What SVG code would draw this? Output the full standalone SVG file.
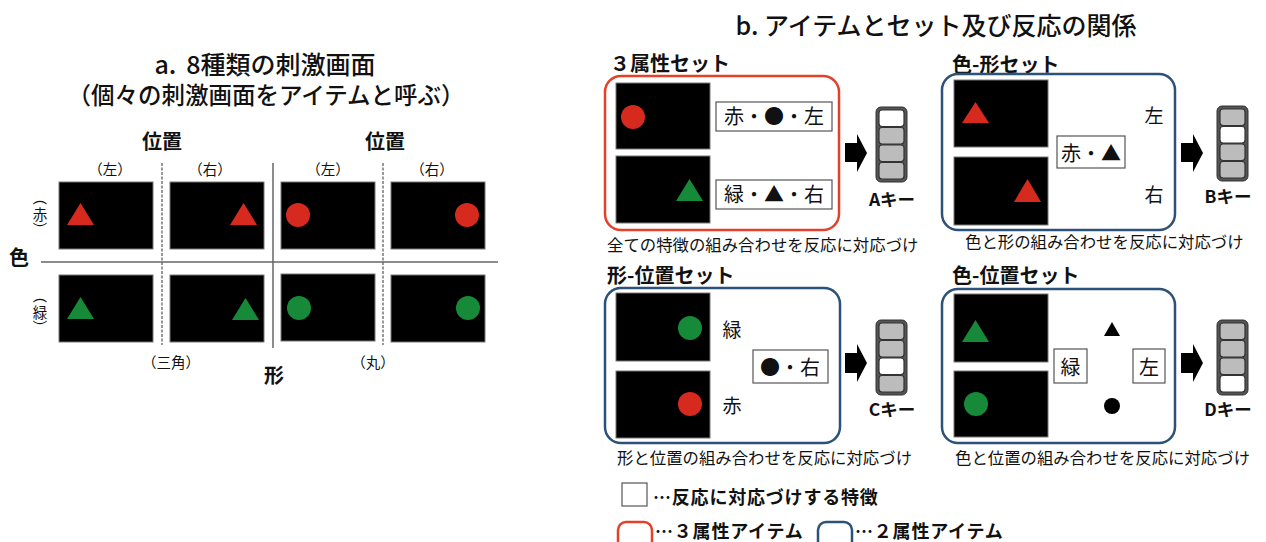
<svg xmlns="http://www.w3.org/2000/svg" width="1266" height="542" viewBox="0 0 1266 542">
<style>
text{font-family:"Noto Sans CJK JP","Noto Sans",sans-serif;fill:#111}
.b{font-weight:bold}
.m{font-weight:500}
.stim{fill:#000;stroke:#777;stroke-width:1}
.red{fill:#d62a1e}
.grn{fill:#178a3a}
.blk{fill:#000}
.div{stroke:#666;stroke-width:1.5;fill:none}
.dash{stroke:#777;stroke-width:1.5;stroke-dasharray:3 1.5;fill:none}
.set3{fill:#fff;stroke:#e4402a;stroke-width:2.5}
.set2{fill:#fff;stroke:#2c5279;stroke-width:2.5}
.lab{fill:#fff;stroke:#555;stroke-width:1.2}
.key{fill:#555;stroke:#333;stroke-width:1}
.cell{fill:#bcbcbc;stroke:#333;stroke-width:1.2}
.on{fill:#fff}
.arr{fill:#000}
.t13{font-size:14.5px}
.t18{font-size:19px}
.t20{font-size:20px}
.cap{font-size:16.4px}
.kl{font-size:17.5px;font-weight:bold}
.vc{font-size:14.5px;text-anchor:middle;dominant-baseline:central}
.lg{font-size:18px;font-weight:bold;letter-spacing:0.8px}
</style>
<rect width="1266" height="542" fill="#fff"/>

<!-- Part a -->
<g id="title-a">
<text x="265" y="74" text-anchor="middle" class="m" font-size="25">a.<tspan dx="10">8種類の刺激画面</tspan></text>
<text x="266" y="104" text-anchor="middle" class="m" font-size="23.5">（個々の刺激画面をアイテムと呼ぶ）</text>
</g>
<g id="axes-a">
<text x="162" y="149" text-anchor="middle" class="b t20">位置</text>
<text x="385" y="149" text-anchor="middle" class="b t20">位置</text>
<text x="110" y="175" text-anchor="middle" class="t13">（左）</text>
<text x="210" y="175" text-anchor="middle" class="t13">（右）</text>
<text x="328" y="175" text-anchor="middle" class="t13">（左）</text>
<text x="432" y="175" text-anchor="middle" class="t13">（右）</text>
<text x="9" y="265" class="b t20">色</text>
<g id="label-red-vertical">
<text class="vc" transform="translate(40,198) rotate(90)">（</text>
<text class="vc" x="40" y="213">赤</text>
<text class="vc" transform="translate(40,229) rotate(90)">）</text>
</g>
<g id="label-green-vertical">
<text class="vc" transform="translate(40,296) rotate(90)">（</text>
<text class="vc" x="40" y="311">緑</text>
<text class="vc" transform="translate(40,327) rotate(90)">）</text>
</g>
<text x="171" y="368" text-anchor="middle" class="t13">（三角）</text>
<text x="373" y="368" text-anchor="middle" class="t13">（丸）</text>
<text x="274" y="383" text-anchor="middle" class="b t20">形</text>
</g>
<g id="dividers-a">
<line class="dash" x1="162" y1="163" x2="162" y2="345"/>
<line class="div" x1="273" y1="163" x2="273" y2="348"/>
<line class="dash" x1="383" y1="163" x2="383" y2="345"/>
<line class="div" x1="41" y1="262" x2="498" y2="262"/>
</g>
<g id="a-red-tri-left"><rect class="stim" x="59" y="182" width="94" height="67"/><polygon class="red" points="67,225 94,225 80.5,203"/></g>
<g id="a-red-tri-right"><rect class="stim" x="170" y="182" width="94" height="67"/><polygon class="red" points="230,225 257,225 243.5,203"/></g>
<g id="a-red-circ-left"><rect class="stim" x="281" y="182" width="94" height="67"/><circle class="red" cx="298" cy="215" r="12"/></g>
<g id="a-red-circ-right"><rect class="stim" x="391" y="182" width="94" height="67"/><circle class="red" cx="467" cy="215" r="12"/></g>
<g id="a-grn-tri-left"><rect class="stim" x="59" y="275" width="94" height="67"/><polygon class="grn" points="67,319 94,319 80.5,297"/></g>
<g id="a-grn-tri-right"><rect class="stim" x="170" y="275" width="94" height="67"/><polygon class="grn" points="232,320 259,320 245.5,298"/></g>
<g id="a-grn-circ-left"><rect class="stim" x="281" y="274" width="94" height="67"/><circle class="grn" cx="299" cy="308" r="12"/></g>
<g id="a-grn-circ-right"><rect class="stim" x="391" y="275" width="94" height="67"/><circle class="grn" cx="468" cy="308" r="12"/></g>

<!-- Part b -->
<g id="title-b">
<text x="936" y="35" text-anchor="middle" class="m" font-size="25">b. アイテムとセット及び反応の関係</text>
</g>

<g id="set-A">
<text x="610" y="71" class="b t20">３属性セット</text>
<rect class="set3" x="605" y="76" width="234" height="154" rx="16"/>
<rect class="stim" x="616" y="83" width="94" height="66"/>
<circle class="red" cx="633" cy="117" r="12"/>
<rect class="stim" x="616" y="156" width="94" height="67"/>
<polygon class="grn" points="676,201 703,201 689.5,179"/>
<rect class="lab" x="716" y="102" width="116" height="29"/>
<text x="774" y="124" text-anchor="middle" class="t20">赤・●・左</text>
<rect class="lab" x="716" y="180" width="116" height="29"/>
<text x="774" y="202" text-anchor="middle" class="t20">緑・▲・右</text>
<text x="607" y="251" class="cap">全ての特徴の組み合わせを反応に対応づけ</text>
</g>
<g id="key-A">
<rect class="key" x="876" y="107" width="31" height="75" rx="5"/>
<rect class="cell on" x="879" y="110" width="25" height="16.5" rx="3"/>
<rect class="cell" x="879" y="127.5" width="25" height="16.5" rx="3"/>
<rect class="cell" x="879" y="145" width="25" height="16.5" rx="3"/>
<rect class="cell" x="879" y="162.5" width="25" height="16.5" rx="3"/>
<text x="892" y="206" text-anchor="middle" class="kl">Aキー</text>
</g>

<g id="set-B">
<text x="952" y="72" class="b t20">色-形セット</text>
<rect class="set2" x="942" y="74" width="233" height="156" rx="16"/>
<rect class="stim" x="954" y="80" width="94" height="67"/>
<polygon class="red" points="962,123 989,123 975.5,102"/>
<rect class="stim" x="954" y="157" width="94" height="68"/>
<polygon class="red" points="1014,202 1041,202 1027.5,179"/>
<text x="1154" y="123" text-anchor="middle" class="t18">左</text>
<text x="1154" y="202" text-anchor="middle" class="t18">右</text>
<rect class="lab" x="1057" y="136" width="68" height="32"/>
<text x="1091" y="161" text-anchor="middle" class="t20">赤・▲</text>
<text x="965" y="248" class="cap">色と形の組み合わせを反応に対応づけ</text>
</g>
<g id="key-B">
<rect class="key" x="1217" y="106" width="31" height="75" rx="5"/>
<rect class="cell" x="1220" y="109" width="25" height="16.5" rx="3"/>
<rect class="cell on" x="1220" y="126.5" width="25" height="16.5" rx="3"/>
<rect class="cell" x="1220" y="144" width="25" height="16.5" rx="3"/>
<rect class="cell" x="1220" y="161.5" width="25" height="16.5" rx="3"/>
<text x="1228" y="203" text-anchor="middle" class="kl">Bキー</text>
</g>

<g id="set-C">
<text x="607" y="283" class="b t20">形-位置セット</text>
<rect class="set2" x="605" y="288" width="235" height="155" rx="16"/>
<rect class="stim" x="616" y="293" width="94" height="68"/>
<circle class="grn" cx="690" cy="328" r="12"/>
<rect class="stim" x="616" y="371" width="94" height="67"/>
<circle class="red" cx="690" cy="404" r="12"/>
<text x="732" y="337" text-anchor="middle" class="t18">緑</text>
<text x="732" y="413" text-anchor="middle" class="t18">赤</text>
<rect class="lab" x="753" y="350" width="75" height="33"/>
<text x="790" y="375" text-anchor="middle" class="t20">●・右</text>
<text x="617" y="464" class="cap">形と位置の組み合わせを反応に対応づけ</text>
</g>
<g id="key-C">
<rect class="key" x="876" y="320" width="31" height="75" rx="5"/>
<rect class="cell" x="879" y="323" width="25" height="16.5" rx="3"/>
<rect class="cell" x="879" y="340.5" width="25" height="16.5" rx="3"/>
<rect class="cell on" x="879" y="358" width="25" height="16.5" rx="3"/>
<rect class="cell" x="879" y="375.5" width="25" height="16.5" rx="3"/>
<text x="892" y="416" text-anchor="middle" class="kl">Cキー</text>
</g>

<g id="set-D">
<text x="952" y="283" class="b t20">色-位置セット</text>
<rect class="set2" x="942" y="289" width="233" height="154" rx="16"/>
<rect class="stim" x="954" y="294" width="94" height="68"/>
<polygon class="grn" points="962,342 989,342 975.5,320"/>
<rect class="stim" x="954" y="371" width="94" height="66"/>
<circle class="grn" cx="976" cy="404" r="12"/>
<rect class="lab" x="1054" y="349" width="33" height="34"/>
<text x="1070.5" y="375" text-anchor="middle" class="t20">緑</text>
<rect class="lab" x="1133" y="349" width="32" height="34"/>
<text x="1149" y="375" text-anchor="middle" class="t20">左</text>
<polygon class="blk" points="1104,336 1120,336 1112,322"/>
<circle class="blk" cx="1112" cy="406" r="8"/>
<text x="955" y="464" class="cap">色と位置の組み合わせを反応に対応づけ</text>
</g>
<g id="key-D">
<rect class="key" x="1217" y="320" width="31" height="75" rx="5"/>
<rect class="cell" x="1220" y="323" width="25" height="16.5" rx="3"/>
<rect class="cell" x="1220" y="340.5" width="25" height="16.5" rx="3"/>
<rect class="cell" x="1220" y="358" width="25" height="16.5" rx="3"/>
<rect class="cell on" x="1220" y="375.5" width="25" height="16.5" rx="3"/>
<text x="1228" y="416" text-anchor="middle" class="kl">Dキー</text>
</g>

<g id="connectors">
<polygon class="arr" points="845,143 857,143 857,134 867,153 857,172 857,162 845,162"/>
<polygon class="arr" points="1181,143 1193,143 1193,134 1203,153 1193,172 1193,162 1181,162"/>
<polygon class="arr" points="845,353 857,353 857,344 867,363 857,382 857,373 845,373"/>
<polygon class="arr" points="1181,353 1193,353 1193,344 1203,363 1193,382 1193,373 1181,373"/>
</g>

<g id="legend">
<rect class="lab" x="622" y="483" width="25" height="23"/>
<text x="653" y="504" class="lg">…反応に対応づけする特徴</text>
<rect class="set3" x="618" y="522" width="34" height="40" rx="8"/>
<text x="655" y="538" class="lg">…３属性アイテム</text>
<rect class="set2" x="818" y="522" width="34" height="40" rx="8"/>
<text x="855" y="538" class="lg">…２属性アイテム</text>
</g>
</svg>
